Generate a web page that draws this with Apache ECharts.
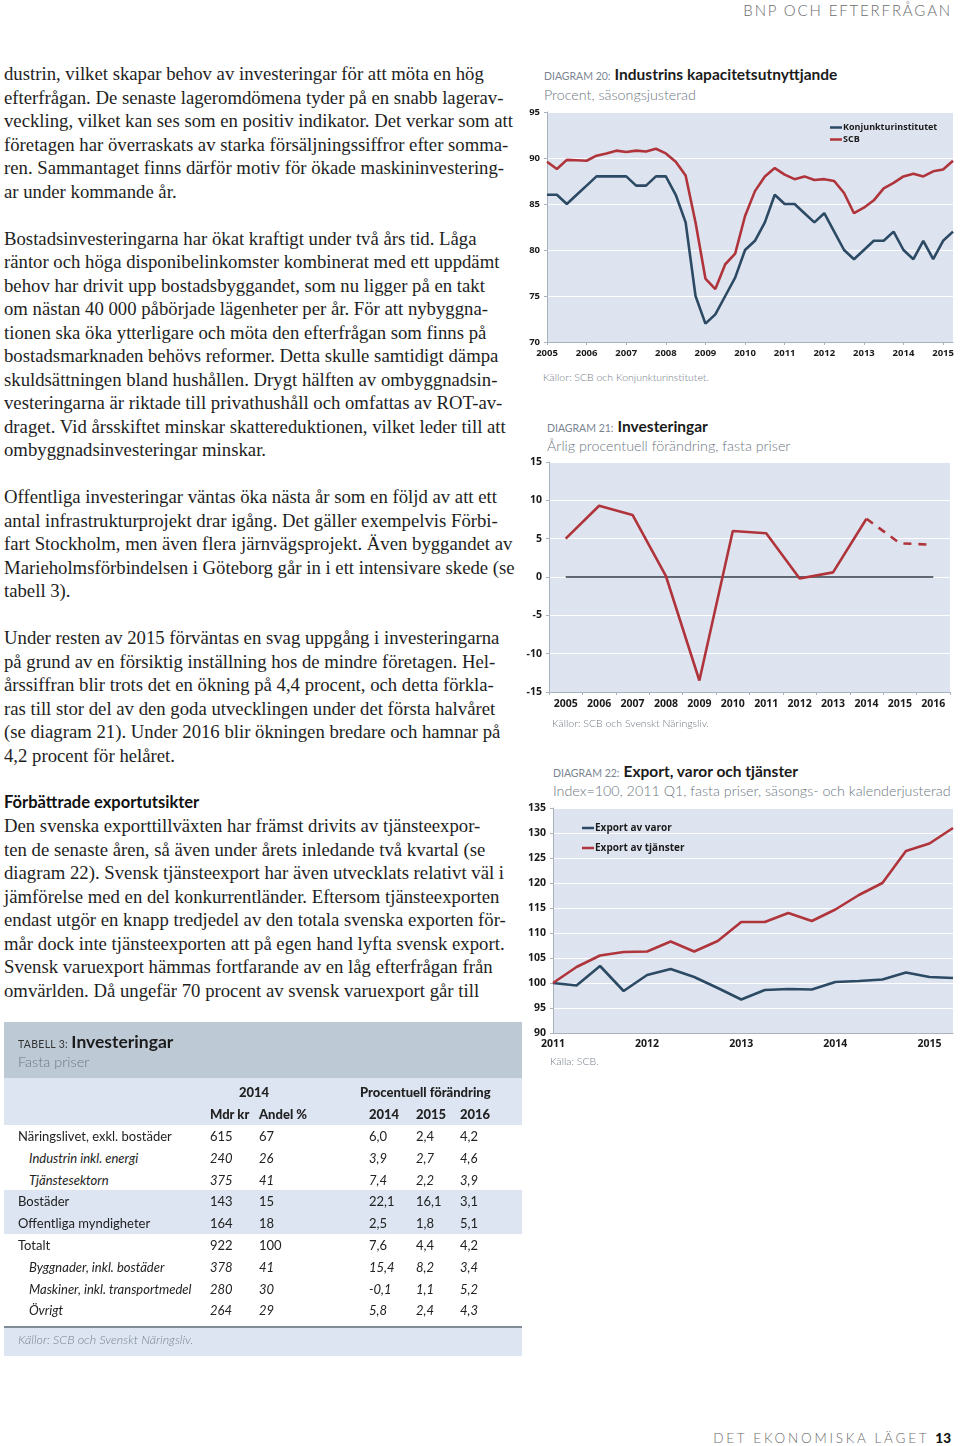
<!DOCTYPE html>
<html><head><meta charset="utf-8">
<script src="https://cdn.jsdelivr.net/npm/echarts@6/dist/echarts.min.js"></script>
<style>
html,body{margin:0;padding:0;background:#fff;}
body{width:960px;height:1446px;position:relative;overflow:hidden;font-family:Lato,'Open Sans',sans-serif;}
.abs{position:absolute;white-space:nowrap;}
.bl{position:absolute;left:4px;white-space:nowrap;font-family:'Liberation Serif','DejaVu Serif',serif;font-size:17px;color:#1e1e1e;line-height:23.5px;}
.hd{font-family:Lato,'Open Sans',sans-serif;font-weight:bold;color:#111;}
.dlab{font-size:10.5px;color:#7a8591;letter-spacing:0px;}
.dtit{font-size:15.5px;font-weight:bold;color:#1b1b1b;}
.dsub{font-size:14.3px;color:#6e7782;font-weight:300;}
.src{font-size:10.5px;color:#6f7a86;font-weight:300;}
.chart{position:absolute;}
.tc{position:absolute;white-space:nowrap;font-size:13px;color:#222;line-height:22px;}
</style></head>
<body>
<div class="abs" style="right:8px;top:1px;font-size:15px;font-weight:300;letter-spacing:1.85px;color:#6b6b6b;">BNP OCH EFTERFRÅGAN</div>
<div id="bodytext"></div>

<div class="abs" style="left:544px;top:64px;"><span class="dlab">DIAGRAM 20:</span> <span class="dtit">Industrins kapacitetsutnyttjande</span></div>
<div class="abs dsub" style="left:544px;top:86px;">Procent, säsongsjusterad</div>
<div id="c20" class="chart" style="left:520px;top:100px;width:440px;height:270px;"></div>
<div class="abs src" style="left:543px;top:371px;">Källor: SCB och Konjunkturinstitutet.</div>

<div class="abs" style="left:547px;top:416px;"><span class="dlab">DIAGRAM 21:</span> <span class="dtit">Investeringar</span></div>
<div class="abs dsub" style="left:547px;top:437px;">Årlig procentuell förändring, fasta priser</div>
<div id="c21" class="chart" style="left:520px;top:450px;width:440px;height:270px;"></div>
<div class="abs src" style="left:552px;top:717px;">Källor: SCB och Svenskt Näringsliv.</div>

<div class="abs" style="left:553px;top:761px;"><span class="dlab">DIAGRAM 22:</span> <span class="dtit">Export, varor och tjänster</span></div>
<div class="abs dsub" style="left:553px;top:782px;">Index=100, 2011 Q1, fasta priser, säsongs- och kalenderjusterad</div>
<div id="c22" class="chart" style="left:520px;top:800px;width:440px;height:260px;"></div>
<div class="abs src" style="left:550px;top:1055px;">Källa: SCB.</div>

<div id="table"></div>

<div class="abs" style="right:9px;top:1430px;font-size:13.5px;letter-spacing:2.75px;color:#6b6b6b;font-weight:300;">DET EKONOMISKA LÄGET <b style="color:#111;font-weight:900;letter-spacing:0">13</b></div>

<script>
// ---------- Body text ----------
const bodyLines = [
"dustrin, vilket skapar behov av investeringar för att möta en hög",
"efterfrågan. De senaste lageromdömena tyder på en snabb lagerav-",
"veckling, vilket kan ses som en positiv indikator. Det verkar som att",
"företagen har överraskats av starka försäljningssiffror efter somma-",
"ren. Sammantaget finns därför motiv för ökade maskininvestering-",
"ar under kommande år.",
"",
"Bostadsinvesteringarna har ökat kraftigt under två års tid. Låga",
"räntor och höga disponibelinkomster kombinerat med ett uppdämt",
"behov har drivit upp bostadsbyggandet, som nu ligger på en takt",
"om nästan 40 000 påbörjade lägenheter per år. För att nybyggna-",
"tionen ska öka ytterligare och möta den efterfrågan som finns på",
"bostadsmarknaden behövs reformer. Detta skulle samtidigt dämpa",
"skuldsättningen bland hushållen. Drygt hälften av ombyggnadsin-",
"vesteringarna är riktade till privathushåll och omfattas av ROT-av-",
"draget. Vid årsskiftet minskar skattereduktionen, vilket leder till att",
"ombyggnadsinvesteringar minskar.",
"",
"Offentliga investeringar väntas öka nästa år som en följd av att ett",
"antal infrastrukturprojekt drar igång. Det gäller exempelvis Förbi-",
"fart Stockholm, men även flera järnvägsprojekt. Även byggandet av",
"Marieholmsförbindelsen i Göteborg går in i ett intensivare skede (se",
"tabell 3).",
"",
"Under resten av 2015 förväntas en svag uppgång i investeringarna",
"på grund av en försiktig inställning hos de mindre företagen. Hel-",
"årssiffran blir trots det en ökning på 4,4 procent, och detta förkla-",
"ras till stor del av den goda utvecklingen under det första halvåret",
"(se diagram 21). Under 2016 blir ökningen bredare och hamnar på",
"4,2 procent för helåret.",
"",
"#Förbättrade exportutsikter",
"Den svenska exporttillväxten har främst drivits av tjänsteexpor-",
"ten de senaste åren, så även under årets inledande två kvartal (se",
"diagram 22). Svensk tjänsteexport har även utvecklats relativt väl i",
"jämförelse med en del konkurrentländer. Eftersom tjänsteexporten",
"endast utgör en knapp tredjedel av den totala svenska exporten för-",
"mår dock inte tjänsteexporten att på egen hand lyfta svensk export.",
"Svensk varuexport hämmas fortfarande av en låg efterfrågan från",
"omvärlden. Då ungefär 70 procent av svensk varuexport går till"
];
(function(){
  const host = document.getElementById('bodytext');
  const els = [];
  bodyLines.forEach((t,i)=>{
    const d = document.createElement('div');
    d.className = 'bl';
    d.style.top = (62.25 + i*23.5) + 'px';
    if (t.startsWith('#')) { d.classList.add('hd'); d.style.fontSize='16.5px'; d.textContent = t.slice(1); }
    else { d.textContent = t; els.push(d); }
    host.appendChild(d);
  });
  let w = 0;
  els.forEach(e=>{w = Math.max(w, e.getBoundingClientRect().width);});
  const fs = 17 * 511 / w;
  els.forEach(e=>e.style.fontSize = fs + 'px');
})();

// ---------- Table 3 ----------
const tabRowLabels = ["Näringslivet, exkl. bostäder","Industrin inkl. energi","Tjänstesektorn","Bostäder","Offentliga myndigheter","Totalt","Byggnader, inkl. bostäder","Maskiner, inkl. transportmedel","Övrigt"];
const tabMdrKr = ["615","240","375","143","164","922","378","280","264"];
const tabAndel = ["67","26","41","15","18","100","41","30","29"];
const tabChg2014 = ["6,0","3,9","7,4","22,1","2,5","7,6","15,4","-0,1","5,8"];
const tabChg2015 = ["2,4","2,7","2,2","16,1","1,8","4,4","8,2","1,1","2,4"];
const tabChg2016 = ["4,2","4,6","3,9","3,1","5,1","4,2","3,4","5,2","4,3"];
const tabSubRows = [1,2,6,7,8];
const tabBandRows = [3,4];
(function(){
  const host = document.getElementById('table');
  function box(l,t,w,h,bg){const d=document.createElement('div');d.style.cssText=`position:absolute;left:${l}px;top:${t}px;width:${w}px;height:${h}px;background:${bg}`;host.appendChild(d);}
  function txt(l,t,s,css){const d=document.createElement('div');d.className='tc';d.style.left=l+'px';d.style.top=t+'px';if(css)d.style.cssText+=css;d.innerHTML=s;host.appendChild(d);}
  const X0=4, W=518;
  box(X0,1022,W,56,'#bdcad6');
  box(X0,1078,W,47,'#dce5f1');
  const rowTop = 1125, rh = 21.8;
  tabBandRows.forEach(r=>box(X0,rowTop+r*rh-0.5,W,rh+0.5,'#dce5f1'));
  box(X0,1326,W,1.5,'#7f8b97');
  box(X0,1327.5,W,28,'#dce5f1');
  txt(18,1031,'<span style="font-size:10.5px;color:#333;letter-spacing:0.3px">TABELL 3:</span> <span style="font-size:17.5px;font-weight:bold;color:#1b1b1b">Investeringar</span>');
  txt(18,1051,'<span style="font-size:14.5px;color:#6e7782;font-weight:300">Fasta priser</span>');
  const H = 'font-weight:900;';
  txt(239,1081,'2014',H);
  txt(360,1081,'Procentuell förändring',H);
  txt(210,1103,'Mdr kr',H);
  txt(259,1103,'Andel %',H);
  txt(369,1103,'2014',H);
  txt(416,1103,'2015',H);
  txt(460,1103,'2016',H);
  tabRowLabels.forEach((lab,i)=>{
    const sub = tabSubRows.includes(i);
    const st = sub ? 'font-style:italic;' : '';
    const t = rowTop + i*rh;
    txt(sub?29:18,t,lab,st);
    txt(210,t,tabMdrKr[i],st);
    txt(259,t,tabAndel[i],st);
    txt(369,t,tabChg2014[i],st);
    txt(416,t,tabChg2015[i],st);
    txt(460,t,tabChg2016[i],st);
  });
  txt(18,1329,'Källor: SCB och Svenskt Näringsliv.','font-style:italic;color:#7a8591;font-size:12.5px;font-weight:300;');
})();

// ---------- Diagram 20 ----------
const d20Years = [2005,2006,2007,2008,2009,2010,2011,2012,2013,2014,2015];
const d20Quarters = [];
d20Years.forEach(y=>{for(let q=1;q<=4;q++) d20Quarters.push(y+' K'+q);});
d20Quarters.length = 42; // 2005 K1 – 2015 K2
const d20Konjunkturinstitutet = [86,86,85,86,87,88,88,88,88,87,87,88,88,86,83,75,72,73,75,77,80,81,83,86,85,85,84,83,84,82,80,79,80,81,81,82,80,79,81,79,81,82];
const d20SCB = [89.6,88.8,89.8,89.75,89.7,90.25,90.5,90.8,90.65,90.8,90.7,91.0,90.5,89.6,88.1,83.0,76.9,75.75,78.45,79.6,83.7,86.4,88.0,88.9,88.2,87.7,88.0,87.6,87.7,87.5,86.2,84.0,84.6,85.4,86.7,87.3,88.0,88.3,88.0,88.55,88.75,89.7];

// ---------- Diagram 21 ----------
const d21Years = ["2005","2006","2007","2008","2009","2010","2011","2012","2013","2014","2015","2016"];
const d21Utfall = [5.0,9.3,8.1,0.1,-13.5,6.0,5.7,-0.2,0.6,7.6,null,null];
const d21Prognos = [null,null,null,null,null,null,null,null,null,7.6,4.4,4.2];
const d21Noll = [0,0,0,0,0,0,0,0,0,0,0,0];

// ---------- Diagram 22 ----------
const d22Years = [2011,2012,2013,2014,2015];
const d22Quarters = [];
d22Years.forEach(y=>{for(let q=1;q<=4;q++) d22Quarters.push(y+' K'+q);});
d22Quarters.length = 18; // 2011 K1 – 2015 K2
const d22Varor = [100.0,99.5,103.4,98.4,101.6,102.8,101.2,99.0,96.7,98.6,98.8,98.7,100.2,100.4,100.7,102.1,101.2,101.0];
const d22Tjanster = [100.0,103.2,105.5,106.2,106.3,108.3,106.3,108.4,112.2,112.2,114.0,112.4,114.7,117.6,120.0,126.4,127.9,131.0];

const BLUE = '#2c4a64', RED = '#b0343b', BG = '#dde4ef';
const FONT = "'Open Sans', Lato, sans-serif";

function baseY(min,max,fs){
  return {type:'value',min:min,max:max,interval:5,
    axisLine:{show:true,lineStyle:{color:'#a9b2bd',width:1}},
    axisTick:{show:true,length:3,lineStyle:{color:'#a9b2bd'}},
    axisLabel:{fontFamily:FONT,fontWeight:'bold',fontSize:fs,color:'#1a1a1a',margin:7},
    splitLine:{show:true,lineStyle:{color:'#ffffff',width:1}}};
}
function lineSeries(name,data,color,extra){
  return Object.assign({name:name,type:'line',data:data,symbol:'none',showSymbol:false,
    lineStyle:{color:color,width:2.6},itemStyle:{color:color},emphasis:{disabled:true},z:3},extra||{});
}

const c20 = echarts.init(document.getElementById('c20'),null,{renderer:'canvas'});
c20.setOption({
  animation:false,
  grid:{left:27,top:12,width:406,height:230,show:true,backgroundColor:BG,borderWidth:0,containLabel:false},
  legend:{orient:'vertical',left:305,top:17,itemWidth:12,itemHeight:2.5,itemGap:1,icon:'rect',
    textStyle:{fontFamily:FONT,fontWeight:'bold',fontSize:9,color:'#1a1a1a',padding:[0,0,0,-4],lineHeight:11},
    data:['Konjunkturinstitutet','SCB'],selectedMode:false},
  xAxis:{type:'category',data:d20Quarters,boundaryGap:false,
    axisLine:{show:true,lineStyle:{color:'#a9b2bd'}},
    axisTick:{show:true,interval:3,length:3,lineStyle:{color:'#a9b2bd'}},
    axisLabel:{interval:3,formatter:v=>v.slice(0,4),fontFamily:FONT,fontWeight:'bold',fontSize:9.5,color:'#1a1a1a',margin:6},
    splitLine:{show:false}},
  yAxis:baseY(70,95,9.5),
  series:[lineSeries('Konjunkturinstitutet',d20Konjunkturinstitutet,BLUE),lineSeries('SCB',d20SCB,RED)]
});

const c21 = echarts.init(document.getElementById('c21'),null,{renderer:'canvas'});
c21.setOption({
  animation:false,
  grid:{left:29,top:12,width:401,height:230,show:true,backgroundColor:BG,borderWidth:0},
  xAxis:{type:'category',data:d21Years,boundaryGap:true,
    axisLine:{show:true,onZero:false,lineStyle:{color:'#a9b2bd'}},
    axisTick:{show:true,length:3,lineStyle:{color:'#a9b2bd'}},
    axisLabel:{fontFamily:FONT,fontWeight:'bold',fontSize:10.5,color:'#1a1a1a',margin:7,interval:0},
    splitLine:{show:false}},
  yAxis:baseY(-15,15,10.5),
  series:[
    lineSeries('Noll',d21Noll,'#333d47',{lineStyle:{color:'#333d47',width:1.4},z:2}),
    lineSeries('Utfall',d21Utfall,RED),
    lineSeries('Prognos',d21Prognos,RED,{lineStyle:{color:RED,width:2.6,type:[8,7]}})
  ]
});

const c22 = echarts.init(document.getElementById('c22'),null,{renderer:'canvas'});
c22.setOption({
  animation:false,
  grid:{left:33,top:8,width:400,height:225,show:true,backgroundColor:BG,borderWidth:0},
  legend:{orient:'vertical',left:57,top:17,itemWidth:12,itemHeight:2.5,itemGap:8,icon:'rect',
    textStyle:{fontFamily:FONT,fontWeight:'bold',fontSize:10,color:'#1a1a1a',padding:[0,0,0,-4],lineHeight:12},
    data:['Export av varor','Export av tjänster'],selectedMode:false},
  xAxis:{type:'category',data:d22Quarters,boundaryGap:false,
    axisLine:{show:true,lineStyle:{color:'#a9b2bd'}},
    axisTick:{show:false},
    axisLabel:{interval:3,formatter:v=>v.slice(0,4),fontFamily:FONT,fontWeight:'bold',fontSize:10.5,color:'#1a1a1a',margin:6},
    splitLine:{show:false}},
  yAxis:baseY(90,135,10.5),
  series:[lineSeries('Export av varor',d22Varor,BLUE),lineSeries('Export av tjänster',d22Tjanster,RED)]
});
</script>
</body></html>
